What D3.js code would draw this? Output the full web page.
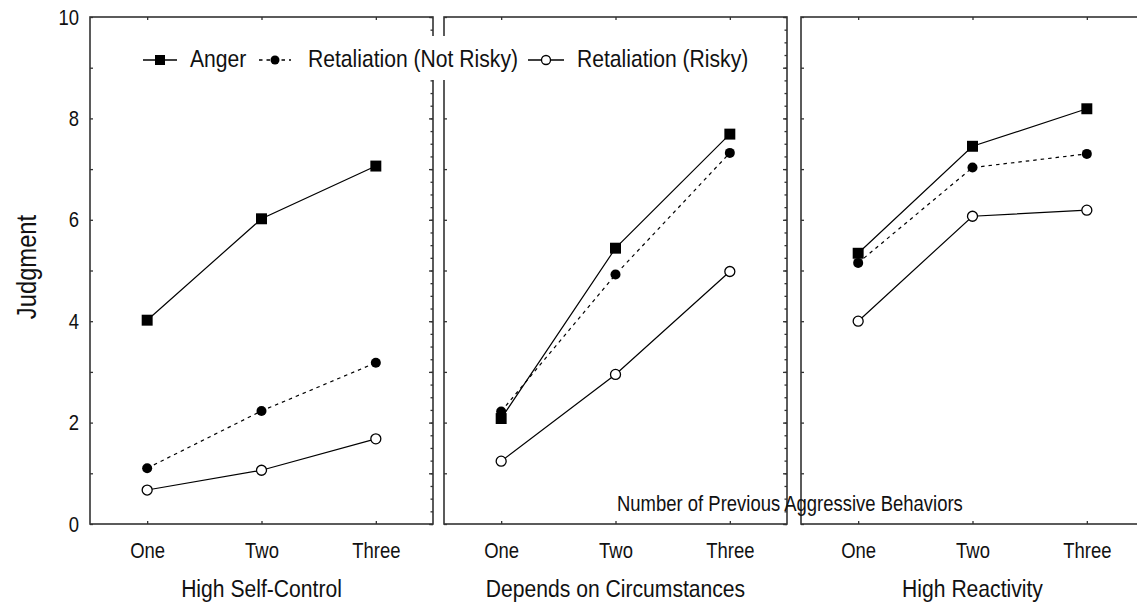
<!DOCTYPE html>
<html>
<head>
<meta charset="utf-8">
<script src="https://cdn.jsdelivr.net/npm/d3@7"></script>
<style>
  html, body { margin: 0; padding: 0; background: #fff; overflow: hidden; }
  svg { display: block; }
  text { font-family: "Liberation Sans", Arial, sans-serif; fill: #111; }
</style>
</head>
<body>
<svg id="chart" width="1137" height="610"></svg>
<script>
// ---- data ----
const categories = ["One", "Two", "Three"];
const panelTitles = ["High Self-Control", "Depends on Circumstances", "High Reactivity"];
const seriesNames = ["Anger", "Retaliation (Not Risky)", "Retaliation (Risky)"];
const anger    = [[4.02, 6.02, 7.06], [2.08, 5.44, 7.69], [5.34, 7.45, 8.19]];
const notRisky = [[1.10, 2.23, 3.18], [2.22, 4.92, 7.32], [5.15, 7.03, 7.30]];
const risky    = [[0.67, 1.06, 1.68], [1.24, 2.95, 4.98], [4.00, 6.07, 6.19]];
const yTickLabels = [0, 2, 4, 6, 8, 10];
const yAxisTitle = "Judgment";
const xAxisTitle = "Number of Previous Aggressive Behaviors";

// ---- layout ----
const svg = d3.select("#chart");
const plotTop = 17, plotBottom = 524, panelW = 343;
const panelLeft = [90, 444, 801];
const frameColor = "#333";
const K = 0.88;  // horizontal condensing of the narrow font (titles, legend)
const KS = 0.84; // condensing for the smaller labels

const y = d3.scaleLinear().domain([0, 10]).range([plotBottom, plotTop]);

function condense(sel, k = K) {
  sel.each(function () {
    const t = d3.select(this);
    const x = +t.attr("x") || 0, yy = +t.attr("y") || 0;
    t.attr("transform", `translate(${x},${yy}) scale(${k},1) translate(${-x},${-yy})`);
  });
}

const symSquare = d3.symbol().type(d3.symbolSquare).size(120);

panelTitles.forEach((title, p) => {
  const L = panelLeft[p], R = L + panelW;
  const x = d3.scalePoint().domain(categories).range([L, R]).padding(0.5);
  const g = svg.append("g");

  // left ticks (inward), integers
  const leftAxis = d3.axisLeft(y).tickValues(d3.range(0, 11, 1))
    .tickSizeInner(-3).tickSizeOuter(0).tickPadding(11)
    .tickFormat(d => (p === 0 && yTickLabels.includes(d)) ? d : "");
  const gl = g.append("g").attr("transform", `translate(${L},0)`).call(leftAxis);
  // right ticks (inward), minor 0.25, major 1
  const gr1 = g.append("g").attr("transform", `translate(${R},0)`)
    .call(d3.axisRight(y).tickValues(d3.range(0, 10.01, 0.25)).tickSizeInner(-2.5).tickSizeOuter(0).tickFormat(""));
  const gr2 = g.append("g").attr("transform", `translate(${R},0)`)
    .call(d3.axisRight(y).tickValues(d3.range(0, 11, 1)).tickSizeInner(-4).tickSizeOuter(0).tickFormat(""));
  // top ticks
  const gt = g.append("g").attr("transform", `translate(0,${plotTop})`)
    .call(d3.axisTop(x).tickSizeInner(-3).tickSizeOuter(0).tickFormat(""));
  // bottom ticks with labels
  const gb = g.append("g").attr("transform", `translate(0,${plotBottom})`)
    .call(d3.axisBottom(x).tickSizeInner(-3).tickSizeOuter(0).tickPadding(18));

  [gl, gr1, gr2, gt, gb].forEach(a => {
    a.select(".domain").remove();
    a.selectAll("line").attr("stroke", frameColor).attr("stroke-width", 1.3);
    a.selectAll("text").style("font-family", '"Liberation Sans", Arial, sans-serif')
      .style("font-size", "22px").attr("fill", "#111");
  });
  condense(gl.selectAll("text"), KS);
  condense(gb.selectAll("text"), KS);

  // frame
  g.append("rect").attr("x", L).attr("y", plotTop).attr("width", panelW).attr("height", plotBottom - plotTop)
    .attr("fill", "none").attr("stroke", frameColor).attr("stroke-width", 1.6);

  // panel title
  const tt = g.append("text").attr("x", (L + R) / 2).attr("y", 597)
    .attr("text-anchor", "middle").style("font-size", "24px").text(title);
  condense(tt);

  // series
  const line = d3.line().x((d, i) => x(categories[i])).y(d => y(d));
  g.append("path").datum(risky[p]).attr("d", line).attr("fill", "none")
    .attr("stroke", "#000").attr("stroke-width", 1.2);
  g.append("path").datum(notRisky[p]).attr("d", line).attr("fill", "none")
    .attr("stroke", "#000").attr("stroke-width", 1.2).attr("stroke-dasharray", "3.5,4");
  g.append("path").datum(anger[p]).attr("d", line).attr("fill", "none")
    .attr("stroke", "#000").attr("stroke-width", 1.2);

  g.selectAll(".risky").data(risky[p]).join("circle").attr("class", "risky")
    .attr("cx", (d, i) => x(categories[i])).attr("cy", d => y(d)).attr("r", 5)
    .attr("fill", "#fff").attr("stroke", "#000").attr("stroke-width", 1.3);
  g.selectAll(".anger").data(anger[p]).join("path").attr("class", "anger")
    .attr("d", symSquare).attr("transform", (d, i) => `translate(${x(categories[i])},${y(d)})`)
    .attr("fill", "#000");
  g.selectAll(".notrisky").data(notRisky[p]).join("circle").attr("class", "notrisky")
    .attr("cx", (d, i) => x(categories[i])).attr("cy", d => y(d)).attr("r", 5)
    .attr("fill", "#000");
});

// y axis title
svg.append("text").attr("transform", `translate(36,267) rotate(-90) scale(${K},1)`)
  .attr("text-anchor", "middle").style("font-size", "27px").text(yAxisTitle);

// x axis title
const xt = svg.append("text").attr("x", 617).attr("y", 511).style("font-size", "22px").text(xAxisTitle);
condense(xt, KS);

// legend
const lg = svg.append("g");
lg.append("rect").attr("x", 125).attr("y", 36).attr("width", 640).attr("height", 44).attr("fill", "#fff");
const legY = 60;
const legItems = [
  { name: seriesNames[0], x1: 143, x2: 177, tx: 190, kind: "square", dash: null },
  { name: seriesNames[1], x1: 259, x2: 291, tx: 308, kind: "dot", dash: "3.5,4" },
  { name: seriesNames[2], x1: 528, x2: 564, tx: 577, kind: "open", dash: null }
];
legItems.forEach(it => {
  const cx = (it.x1 + it.x2) / 2;
  lg.append("line").attr("x1", it.x1).attr("x2", it.x2).attr("y1", legY).attr("y2", legY)
    .attr("stroke", "#000").attr("stroke-width", 1.3).attr("stroke-dasharray", it.dash);
  if (it.kind === "square") {
    lg.append("path").attr("d", d3.symbol().type(d3.symbolSquare).size(100)())
      .attr("transform", `translate(${cx},${legY})`).attr("fill", "#000");
  } else if (it.kind === "dot") {
    lg.append("circle").attr("cx", cx).attr("cy", legY).attr("r", 4.5).attr("fill", "#000");
  } else {
    lg.append("circle").attr("cx", cx).attr("cy", legY).attr("r", 4.5)
      .attr("fill", "#fff").attr("stroke", "#000").attr("stroke-width", 1.3);
  }
  const t = lg.append("text").attr("x", it.tx).attr("y", 67).style("font-size", "24px").text(it.name);
  condense(t);
});
</script>
</body>
</html>
